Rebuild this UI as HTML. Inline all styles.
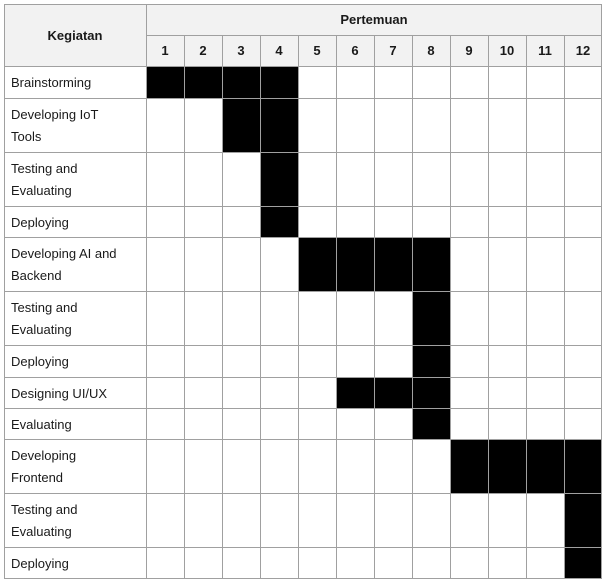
<!DOCTYPE html>
<html><head><meta charset="utf-8"><style>
body{margin:0;background:#fff;width:605px;height:582px;overflow:hidden}
svg text{font-family:"Liberation Sans",sans-serif;font-size:13px;fill:#1a1a1a}
</style></head><body>
<svg width="605" height="582" xmlns="http://www.w3.org/2000/svg">
<rect x="4" y="4" width="598" height="62" fill="#f2f2f2"/>
<g fill="#000">
<rect x="146" y="66" width="152" height="32"/>
<rect x="222" y="98" width="76" height="54"/>
<rect x="260" y="152" width="38" height="85"/>
<rect x="298" y="237" width="152" height="54"/>
<rect x="412" y="291" width="38" height="86"/>
<rect x="336" y="377" width="114" height="31"/>
<rect x="412" y="408" width="38" height="31"/>
<rect x="450" y="439" width="152" height="54"/>
<rect x="564" y="493" width="38" height="86"/>
</g>
<g stroke="#a0a0a0" stroke-width="1" fill="none" shape-rendering="crispEdges">
<rect x="4.5" y="4.5" width="597" height="574"/>
<line x1="146.5" y1="4" x2="146.5" y2="579"/>
<line x1="146" y1="35.5" x2="602" y2="35.5"/>
<line x1="4" y1="66.5" x2="602" y2="66.5"/>
<line x1="4" y1="98.5" x2="602" y2="98.5"/>
<line x1="4" y1="152.5" x2="602" y2="152.5"/>
<line x1="4" y1="206.5" x2="602" y2="206.5"/>
<line x1="4" y1="237.5" x2="602" y2="237.5"/>
<line x1="4" y1="291.5" x2="602" y2="291.5"/>
<line x1="4" y1="345.5" x2="602" y2="345.5"/>
<line x1="4" y1="377.5" x2="602" y2="377.5"/>
<line x1="4" y1="408.5" x2="602" y2="408.5"/>
<line x1="4" y1="439.5" x2="602" y2="439.5"/>
<line x1="4" y1="493.5" x2="602" y2="493.5"/>
<line x1="4" y1="547.5" x2="602" y2="547.5"/>
<line x1="184.5" y1="35" x2="184.5" y2="579"/>
<line x1="222.5" y1="35" x2="222.5" y2="579"/>
<line x1="260.5" y1="35" x2="260.5" y2="579"/>
<line x1="298.5" y1="35" x2="298.5" y2="579"/>
<line x1="336.5" y1="35" x2="336.5" y2="579"/>
<line x1="374.5" y1="35" x2="374.5" y2="579"/>
<line x1="412.5" y1="35" x2="412.5" y2="579"/>
<line x1="450.5" y1="35" x2="450.5" y2="579"/>
<line x1="488.5" y1="35" x2="488.5" y2="579"/>
<line x1="526.5" y1="35" x2="526.5" y2="579"/>
<line x1="564.5" y1="35" x2="564.5" y2="579"/>
</g>
<g font-weight="bold" text-anchor="middle" style="font-weight:bold">
<text x="75" y="40" font-weight="bold">Kegiatan</text>
<text x="374" y="24" font-weight="bold">Pertemuan</text>
<text x="165" y="55" font-weight="bold">1</text>
<text x="203" y="55" font-weight="bold">2</text>
<text x="241" y="55" font-weight="bold">3</text>
<text x="279" y="55" font-weight="bold">4</text>
<text x="317" y="55" font-weight="bold">5</text>
<text x="355" y="55" font-weight="bold">6</text>
<text x="393" y="55" font-weight="bold">7</text>
<text x="431" y="55" font-weight="bold">8</text>
<text x="469" y="55" font-weight="bold">9</text>
<text x="507" y="55" font-weight="bold">10</text>
<text x="545" y="55" font-weight="bold">11</text>
<text x="583" y="55" font-weight="bold">12</text>
</g>
<g>
<text x="11" y="87">Brainstorming</text>
<text x="11" y="119">Developing IoT</text><text x="11" y="141">Tools</text>
<text x="11" y="173">Testing and</text><text x="11" y="195">Evaluating</text>
<text x="11" y="227">Deploying</text>
<text x="11" y="258">Developing AI and</text><text x="11" y="280">Backend</text>
<text x="11" y="312">Testing and</text><text x="11" y="334">Evaluating</text>
<text x="11" y="366">Deploying</text>
<text x="11" y="398">Designing UI/UX</text>
<text x="11" y="429">Evaluating</text>
<text x="11" y="460">Developing</text><text x="11" y="482">Frontend</text>
<text x="11" y="514">Testing and</text><text x="11" y="536">Evaluating</text>
<text x="11" y="568">Deploying</text>
</g>
</svg>
</body></html>
